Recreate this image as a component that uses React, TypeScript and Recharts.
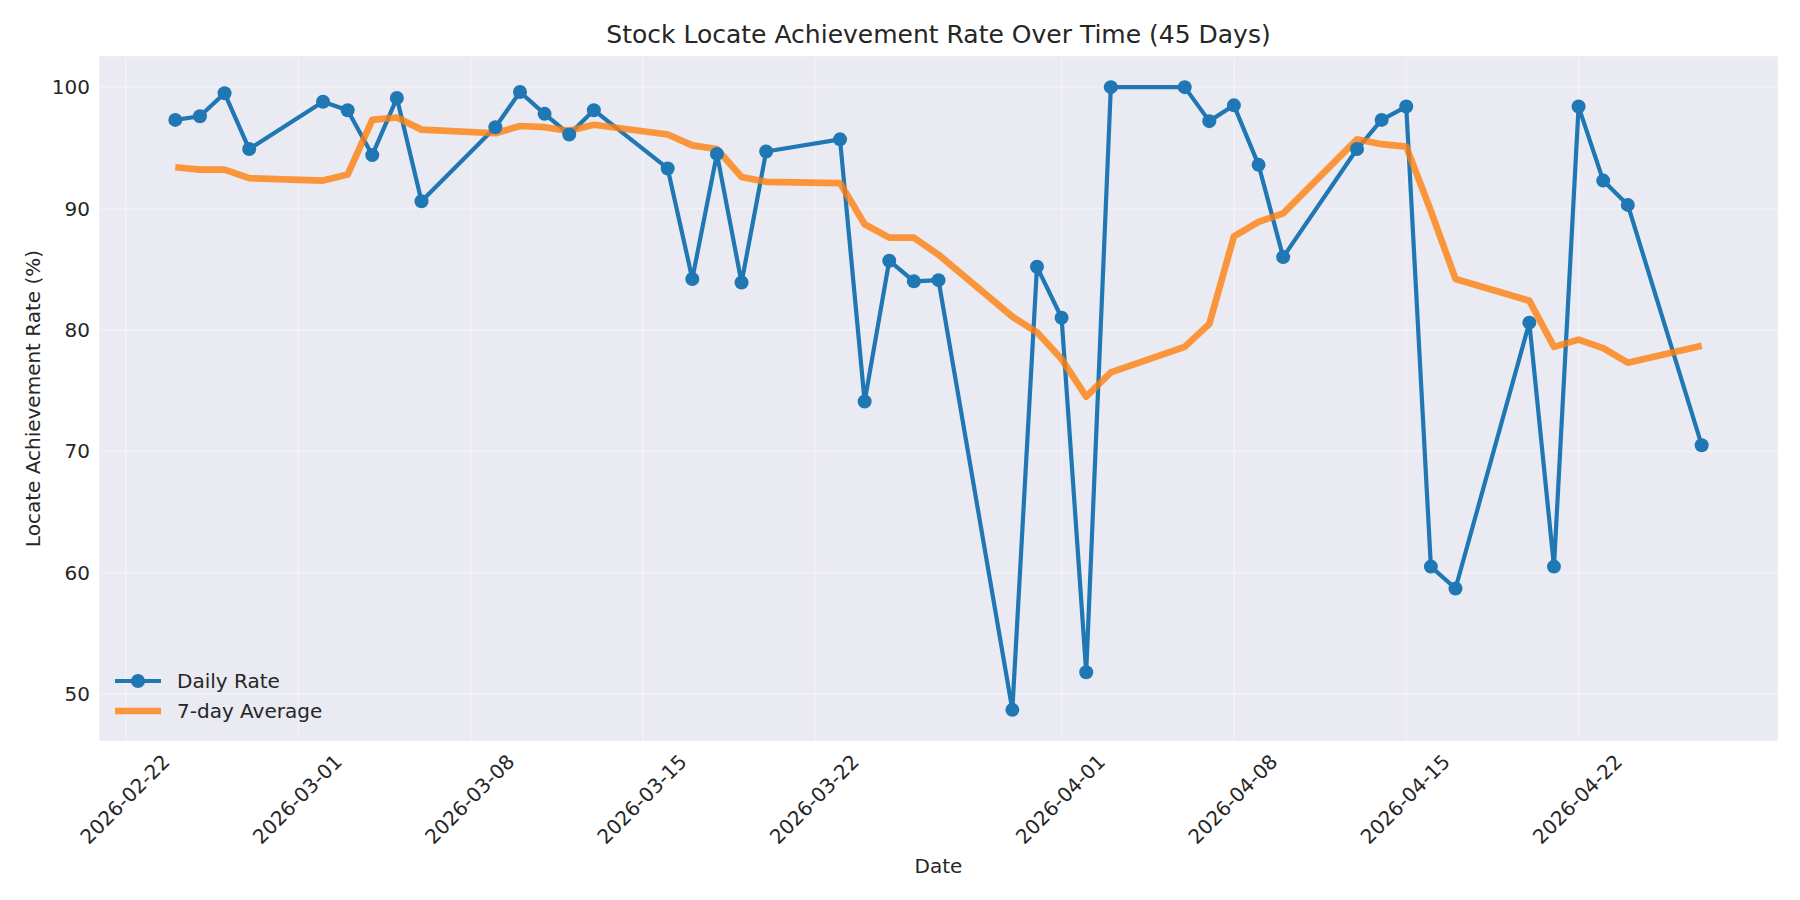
import { LineChart, Line, XAxis, YAxis, CartesianGrid } from 'recharts'

const dates = [
  '2026-02-24', '2026-02-25', '2026-02-26', '2026-02-27',
  '2026-03-02', '2026-03-03', '2026-03-04', '2026-03-05', '2026-03-06',
  '2026-03-09', '2026-03-10', '2026-03-11', '2026-03-12', '2026-03-13',
  '2026-03-16', '2026-03-17', '2026-03-18', '2026-03-19', '2026-03-20',
  '2026-03-23', '2026-03-24', '2026-03-25', '2026-03-26', '2026-03-27',
  '2026-03-30', '2026-03-31', '2026-04-01', '2026-04-02', '2026-04-03',
  '2026-04-06', '2026-04-07', '2026-04-08', '2026-04-09', '2026-04-10',
  '2026-04-13', '2026-04-14', '2026-04-15', '2026-04-16', '2026-04-17',
  '2026-04-20', '2026-04-21', '2026-04-22', '2026-04-23', '2026-04-24',
  '2026-04-27',
]

const dailyRate = [
  97.3, 97.6, 99.5, 94.9,
  98.8, 98.1, 94.4, 99.1, 90.6,
  96.7, 99.6, 97.8, 96.1, 98.1,
  93.3, 84.2, 94.5, 83.9, 94.7,
  95.7, 74.1, 85.7, 84.0, 84.1,
  48.7, 85.2, 81.0, 51.8, 100.0,
  100.0, 97.2, 98.5, 93.6, 86.0,
  94.9, 97.3, 98.4, 60.5, 58.7,
  80.6, 60.5, 98.4, 92.3, 90.3,
  70.5,
]

const weekAverage = [
  93.4, 93.2, 93.2, 92.5,
  92.3, 92.8, 97.3, 97.5, 96.5,
  96.2, 96.8, 96.7, 96.4, 96.9,
  96.1, 95.2, 94.9, 92.6, 92.2,
  92.1, 88.7, 87.6, 87.6, 86.2,
  81.1, 79.8, 77.6, 74.5, 76.5,
  78.6, 80.5, 87.7, 88.9, 89.6,
  95.7, 95.3, 95.1, 89.8, 84.2,
  82.4, 78.6, 79.2, 78.5, 77.3,
  78.7,
]

const xTickLabels = [
  '2026-02-22', '2026-03-01', '2026-03-08', '2026-03-15', '2026-03-22',
  '2026-04-01', '2026-04-08', '2026-04-15', '2026-04-22',
]
const yTicks = [50, 60, 70, 80, 90, 100]

const FONT = "'DejaVu Sans', sans-serif"
const TEXT = '#262626'

const toTime = (d: string) => Date.parse(d + 'T00:00:00Z')
const fmtDate = (v: number) => new Date(v).toISOString().slice(0, 10)

const data = dates.map((d, i) => ({
  t: toTime(d),
  daily: dailyRate[i],
  avg: weekAverage[i],
}))

// matplotlib-style 5% margins
const tMin = toTime(dates[0])
const tMax = toTime(dates[dates.length - 1])
const tPad = (tMax - tMin) * 0.05
const vMin = Math.min(...dailyRate, ...weekAverage)
const vMax = Math.max(...dailyRate, ...weekAverage)
const vPad = (vMax - vMin) * 0.05

const DateTick = ({ x, y, payload }: any) => (
  <text
    transform={`translate(${x + 40},${y + 17}) rotate(-45)`}
    textAnchor="end"
    dominantBaseline="central"
    fontSize={20}
    fontFamily={FONT}
    fill={TEXT}
  >
    {fmtDate(payload.value)}
  </text>
)

export default function App() {
  return (
    <div style={{ position: 'relative', width: 1800, height: 900, background: '#fff' }}>
      <style>{'body{margin:0}'}</style>
      <LineChart
        width={1800}
        height={900}
        data={data}
        margin={{ top: 56, right: 22, bottom: 0, left: 0 }}
      >
        <CartesianGrid
          fill="#EAEAF2"
          stroke="#ffffff"
          strokeOpacity={0.3}
          strokeWidth={1.7}
        />
        <XAxis
          dataKey="t"
          type="number"
          scale="linear"
          domain={[tMin - tPad, tMax + tPad]}
          ticks={xTickLabels.map(toTime)}
          height={159}
          axisLine={false}
          tickLine={false}
          tickSize={0}
          tickMargin={0}
          tick={<DateTick />}
          interval={0}
        />
        <YAxis
          type="number"
          domain={[vMin - vPad, vMax + vPad]}
          ticks={yTicks}
          width={99}
          axisLine={false}
          tickLine={false}
          tickSize={0}
          tickMargin={9}
          tick={{ fontSize: 20, fontFamily: FONT, fill: TEXT }}
          interval={0}
        />
        <Line
          type="linear"
          dataKey="daily"
          stroke="#1f77b4"
          strokeWidth={4.2}
          strokeLinejoin="round"
          dot={{ r: 7, fill: '#1f77b4', stroke: '#1f77b4', strokeWidth: 0 }}
          activeDot={false}
          isAnimationActive={false}
        />
        <Line
          type="linear"
          dataKey="avg"
          stroke="#ff7f0e"
          strokeOpacity={0.8}
          strokeWidth={6.7}
          strokeLinejoin="round"
          dot={false}
          activeDot={false}
          isAnimationActive={false}
        />
      </LineChart>

      <svg
        width={1800}
        height={900}
        style={{ position: 'absolute', left: 0, top: 0, pointerEvents: 'none' }}
        fontFamily={FONT}
        fill={TEXT}
      >
        <text x={938.5} y={42.8} textAnchor="middle" fontSize={25}>
          Stock Locate Achievement Rate Over Time (45 Days)
        </text>
        <text x={938.5} y={873} textAnchor="middle" fontSize={20}>
          Date
        </text>
        <text transform="translate(40,398.5) rotate(-90)" textAnchor="middle" fontSize={20}>
          Locate Achievement Rate (%)
        </text>

        {/* legend */}
        <line x1={115} x2={161} y1={681} y2={681} stroke="#1f77b4" strokeWidth={4.2} />
        <circle cx={138} cy={681} r={7} fill="#1f77b4" />
        <text x={177} y={688} fontSize={20}>Daily Rate</text>
        <line
          x1={115}
          x2={161}
          y1={711}
          y2={711}
          stroke="#ff7f0e"
          strokeOpacity={0.8}
          strokeWidth={6.7}
        />
        <text x={177} y={718} fontSize={20}>7-day Average</text>
      </svg>
    </div>
  )
}
